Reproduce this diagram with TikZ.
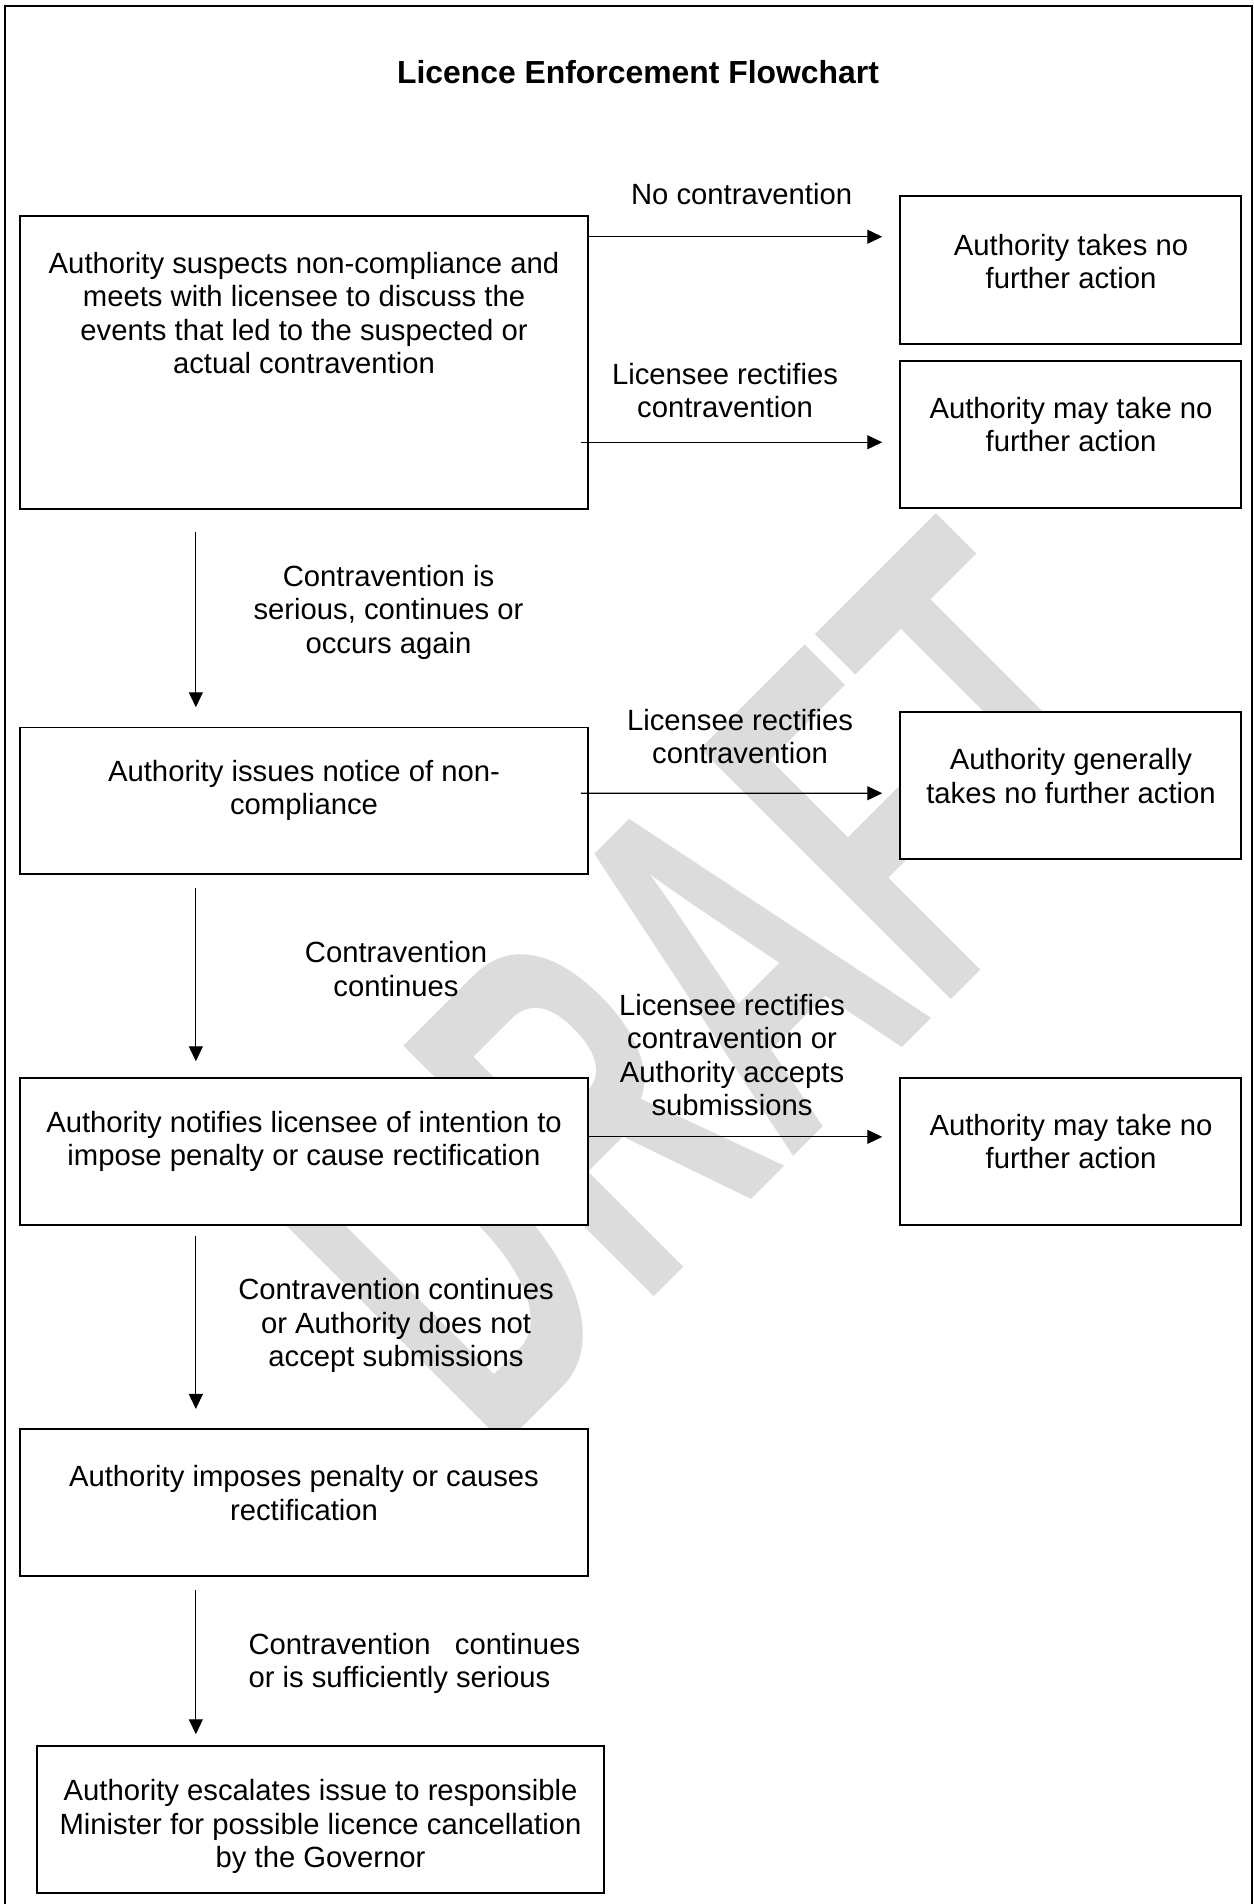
\documentclass[tikz,border=0pt]{standalone}
\usepackage{fontspec}
\usepackage{graphicx}
\setmainfont{Liberation Sans}
\usetikzlibrary{arrows.meta,calc,fit}
\definecolor{wmgray}{RGB}{220,220,220}
\begin{document}
\begin{tikzpicture}[x=0.4pt, y=-0.4pt,
  frame/.style={line width=0.8pt},
  box/.style={draw, line width=0.6pt, fill=white, inner sep=0pt},
  txt/.style={inner sep=0pt, align=center, font=\fontsize{11.7}{13.44}\selectfont},
  arr/.style={line width=0.5pt, -{Triangle[length=6pt,width=5.6pt]}},
]
\useasboundingbox (0,0) rectangle (1253,1904);
% frame
\draw[frame] (5,1904) -- (5,5.7) -- (1251.5,5.7) -- (1251.5,1904);
% watermark
\node[rotate=45, inner sep=0pt, text=wmgray, font=\bfseries\fontsize{206}{206}\selectfont] (wm) at (715,985) {\scalebox{0.565}[1]{DRAFT}};
% title
\node[txt, font=\bfseries\fontsize{12.75}{15}\selectfont] (title) at (638,72) {Licence Enforcement Flowchart};
% boxes
\node[box, fit={(20,216) (588,509)}] (b1) {};
\node[box, fit={(900,196) (1241,344)}] (r1) {};
\node[box, fit={(900,361) (1241,508)}] (r2) {};
\node[box, fit={(20,727.5) (588,874)}] (b2) {};
\node[box, fit={(900,712) (1241,859)}] (r3) {};
\node[box, fit={(20,1078) (588,1225)}] (b3) {};
\node[box, fit={(900,1078) (1241,1225)}] (r4) {};
\node[box, fit={(20,1429) (588,1576)}] (b4) {};
\node[box, fit={(37,1746) (604,1893)}] (b5) {};
% box texts
\node[txt] (b1t) at (304,313) {Authority suspects non-compliance and\\meets with licensee to discuss the\\events that led to the suspected or\\actual contravention};
\node[txt] (r1t) at (1071,261.5) {Authority takes no\\further action};
\node[txt] (r2t) at (1071,424.5) {Authority may take no\\further action};
\node[txt] (b2t) at (304,790.5) {Authority issues notice of non-\\compliance};
\node[txt] (r3t) at (1071,776) {Authority generally\\takes no further action};
\node[txt] (b3t) at (304,1141.5) {Authority notifies licensee of intention to\\impose penalty or cause rectification};
\node[txt] (r4t) at (1071,1141.5) {Authority may take no\\further action};
\node[txt] (b4t) at (304,1493) {Authority imposes penalty or causes\\rectification};
\node[txt] (b5t) at (320.5,1826.5) {Authority escalates issue to responsible\\Minister for possible licence cancellation\\by the Governor};
% labels
\node[txt] (l1) at (741.6,194) {No contravention};
\node[txt] (l2) at (725,390.5) {Licensee rectifies\\contravention};
\node[txt] (l3) at (388.5,612.3) {Contravention is\\serious, continues or\\occurs again};
\node[txt] (l4) at (740,736.5) {Licensee rectifies\\contravention};
\node[txt] (l5) at (396,969) {Contravention\\continues};
\node[txt] (l6) at (732,1055) {Licensee rectifies\\contravention or\\Authority accepts\\submissions};
\node[txt] (l7) at (396,1325.5) {Contravention continues\\or Authority does not\\accept submissions};
\node[txt, align=left, anchor=west] (l8) at (248,1663.5) {Contravention\ \ \ continues\\or is sufficiently serious};
% horizontal connectors
\draw[arr] ($(b1.north east)+(0,21.5)$) -- ($(r1.north west)+(-17,41.5)$);
\draw[arr] ($(b1.north east)+(-8,227)$) -- ($(r2.north west)+(-17,82)$);
\draw[arr] ($(b2.north east)+(-8,66.5)$) -- ($(r3.north west)+(-17,82)$);
\draw[arr] ($(b3.north east)+(0,59.6)$) -- ($(r4.north west)+(-17,59.6)$);
% vertical connectors
\draw[arr] ($(b1.south west)+(176.6,22)$) -- ($(b2.north west)+(176.6,-19.5)$);
\draw[arr] ($(b2.south west)+(176.6,13)$) -- ($(b3.north west)+(176.6,-16)$);
\draw[arr] ($(b3.south west)+(176.6,10)$) -- ($(b4.north west)+(176.6,-19.3)$);
\draw[arr] ($(b4.south west)+(176.6,13)$) -- ($(b5.north west)+(159.6,-11)$);
\end{tikzpicture}
\end{document}
